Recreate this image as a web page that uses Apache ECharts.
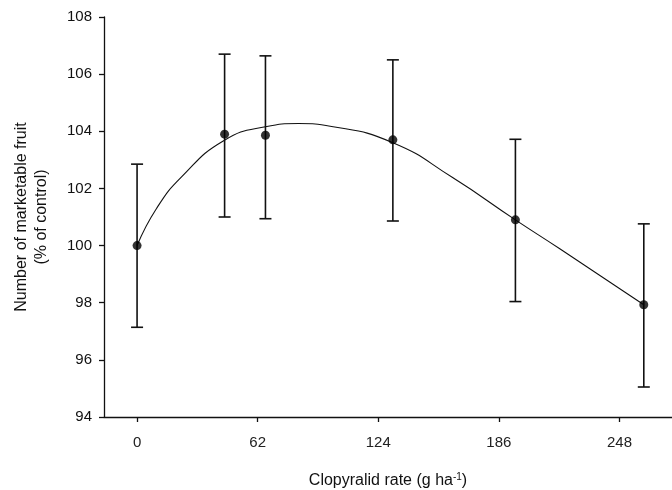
<!DOCTYPE html>
<html>
<head>
<meta charset="utf-8">
<script src="https://cdn.jsdelivr.net/npm/echarts@6/dist/echarts.min.js"></script>
<style>
  html, body { margin: 0; padding: 0; background: #fff; }
  #chart { width: 672px; height: 490px; }
</style>
</head>
<body>
<div id="chart"></div>
<script>
// clopyralid rate, g/ha
const rates = [0, 45, 66, 131.5, 194.5, 260.5]
// mean number of marketable fruit, % of control
const means = [100.0, 103.9, 103.86, 103.7, 100.9, 97.93]
const lower = [97.14, 101.0, 100.94, 100.86, 98.04, 95.05]
const upper = [102.85, 106.7, 106.64, 106.5, 103.72, 100.76]
// fitted curve
const fitX = [0, 10, 23, 44.5, 66, 83, 100, 131.5, 162, 194.5, 217.5, 260.5]
const fitY = [100.0, 101.3, 102.41, 103.67, 104.16, 104.27, 104.17, 103.6, 102.39, 100.9, 99.88, 97.93]
const xTicks = [0, 62, 124, 186, 248]

const chart = echarts.init(document.getElementById('chart'))

chart.setOption({
  animation: false,
  grid: {
    left: 104,
    right: 0,
    top: 17,
    bottom: 73,
    outerBoundsMode: 'none',
  },
  xAxis: {
    type: 'value',
    min: -17,
    max: 275,
    name: 'Clopyralid rate (g ha{sup|-1})',
    nameLocation: 'middle',
    nameGap: 55,
    nameTextStyle: {
      fontFamily: 'Liberation Sans',
      fontSize: 16,
      color: '#111',
      rich: {
        sup: {
          fontSize: 10,
          verticalAlign: 'top',
          padding: [0, 0, 8, 0],
        },
      },
    },
    axisLine: { onZero: false, lineStyle: { color: '#111', width: 1.3 } },
    axisTick: {
      length: 5,
      customValues: xTicks,
      lineStyle: { color: '#111', width: 1.3 },
    },
    axisLabel: {
      customValues: xTicks,
      margin: 18,
      fontFamily: 'Liberation Sans',
      fontSize: 15,
      color: '#222',
    },
    splitLine: { show: false },
  },
  yAxis: {
    type: 'value',
    min: 94,
    max: 108,
    interval: 2,
    name: 'Number of marketable fruit\n(% of control)',
    nameLocation: 'middle',
    nameGap: 52,
    nameTextStyle: {
      fontFamily: 'Liberation Sans',
      fontSize: 16,
      color: '#111',
      lineHeight: 20,
    },
    axisLine: { show: true, onZero: false, lineStyle: { color: '#111', width: 1.3 } },
    axisTick: { show: true, length: 5, lineStyle: { color: '#111', width: 1.3 } },
    axisLabel: {
      margin: 12,
      fontFamily: 'Liberation Sans',
      fontSize: 15,
      color: '#111',
    },
    splitLine: { show: false },
  },
  series: [
    {
      name: 'fit',
      type: 'line',
      smooth: 0.5,
      symbol: 'none',
      data: fitX.map((x, i) => [x, fitY[i]]),
      lineStyle: { color: '#111', width: 1.1 },
      z: 2,
    },
    {
      name: 'error',
      type: 'custom',
      data: rates.map((x, i) => [x, lower[i], upper[i]]),
      renderItem: function (params, api) {
        const lo = api.coord([api.value(0), api.value(1)])
        const hi = api.coord([api.value(0), api.value(2)])
        const w = 6
        const style = { stroke: '#111', lineWidth: 1.6 }
        return {
          type: 'group',
          children: [
            { type: 'line', shape: { x1: lo[0], y1: lo[1], x2: hi[0], y2: hi[1] }, style: style },
            { type: 'line', shape: { x1: lo[0] - w, y1: lo[1], x2: lo[0] + w, y2: lo[1] }, style: style },
            { type: 'line', shape: { x1: hi[0] - w, y1: hi[1], x2: hi[0] + w, y2: hi[1] }, style: style },
          ],
        }
      },
      z: 3,
    },
    {
      name: 'mean',
      type: 'scatter',
      symbol: 'circle',
      symbolSize: 9,
      data: rates.map((x, i) => [x, means[i]]),
      itemStyle: { color: '#000' },
      z: 4,
    },
  ],
})
</script>
</body>
</html>
